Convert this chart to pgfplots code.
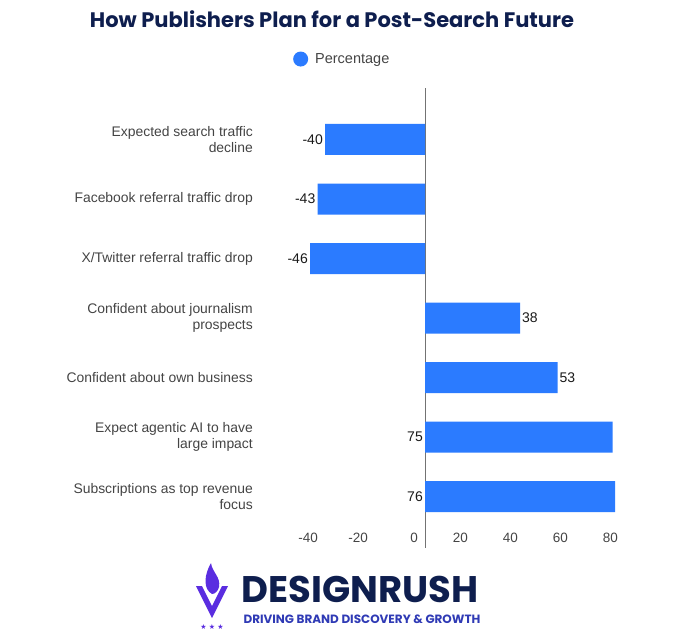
\documentclass[border=0pt]{standalone}
\usepackage{fontspec}
\setmainfont{Liberation Sans}
\newfontfamily\titlefont{Poppins}
\newfontfamily\symfont{DejaVu Sans}
\usepackage{pgfplots}
\pgfplotsset{compat=1.18}
\definecolor{barblue}{HTML}{2B7BFF}
\definecolor{navy}{HTML}{0E1E4E}
\definecolor{txtgray}{HTML}{444444}
\definecolor{logopurple}{HTML}{5A2DE0}
\definecolor{tagblue}{HTML}{2F3AB5}

\begin{document}
\begin{tikzpicture}[x=1pt,y=1pt]
\path[use as bounding box] (0,0) rectangle (700,-633);
\node[anchor=base, font=\titlefont\bfseries\fontsize{21}{25}\selectfont, text=navy] at (332,-27) {How Publishers Plan for a Post-Search Future};

\begin{axis}[
  at={(300pt,-548pt)}, anchor=south west,
  scale only axis, width=325pt, height=460pt,
  xmin=-50, xmax=80, ymin=-0.865, ymax=6.865, y dir=reverse,
  xbar, bar width=31pt, bar shift=0pt,
  axis line style={draw=none}, tick style={draw=none}, major tick length=0pt,
  xtick={-40,-20,0,20,40,60,80},
  xticklabels={-40,-20,0,20,40,60,80},
  xticklabel style={anchor=north east, inner sep=0pt, xshift=-7pt, yshift=15pt, font=\fontsize{13.5}{15}\selectfont, text=txtgray},
  ytick={0,...,6},
  yticklabels={{Expected search traffic\\decline},{Facebook referral traffic drop},{X/Twitter referral traffic drop},{Confident about journalism\\prospects},{Confident about own business},{Expect agentic AI to have\\large impact},{Subscriptions as top revenue\\focus}},
  yticklabel style={align=right, font=\fontsize{13.9}{16}\selectfont, text=txtgray, anchor=east, inner sep=0pt, xshift=-47pt},
  extra x ticks={0}, extra x tick labels={},
  extra x tick style={grid=major, major grid style={draw=black!55, line width=1pt}},
  /pgf/number format/assume math mode=true,
  nodes near coords style={font=\fontsize{14}{15}\selectfont, text=black!90},
  legend style={at={(0.13,1.063)}, anchor=center, draw=none, fill=none, font=\fontsize{14.5}{16}\selectfont, text=txtgray,
    /tikz/every odd column/.append style={column sep=5pt}},
  legend image code/.code={\fill[barblue] (0pt,0pt) circle (7.5pt);},
]
\addplot[fill=barblue, draw=none, nodes near coords, nodes near coords style={anchor=east, inner sep=2pt}]
  coordinates {(-40,0) (-43,1) (-46,2)};
\addlegendentry{Percentage}
\addplot[fill=barblue, draw=none, forget plot, nodes near coords, nodes near coords style={anchor=west, inner sep=2pt}]
  coordinates {(38,3) (53,4)};
\addplot[fill=barblue, draw=none, forget plot]
  coordinates {(75,5) (76,6)};
\addplot[draw=none, fill=none, forget plot, nodes near coords, point meta=explicit symbolic, nodes near coords style={anchor=east, inner sep=2pt}]
  coordinates {(0,5) [75] (0,6) [76]};
\end{axis}

% logo
\fill[logopurple] (196,-586) -- (212,-618) -- (228,-586) -- (222,-586) -- (212,-606) -- (202,-586) -- cycle;
\fill[logopurple] (212,-594) .. controls (203,-589) and (204,-575) .. (211,-563) .. controls (212,-572) and (221,-577) .. (219,-587) .. controls (218,-591) and (215,-594) .. (212,-594) -- cycle;
\node[font=\symfont\fontsize{7}{7}\selectfont, text=logopurple] at (212,-627) {★ ★ ★};
\node[anchor=base west, font=\titlefont\bfseries\fontsize{37}{37}\selectfont, text=navy] at (238,-602) {DESIGNRUSH};
\node[anchor=base west, font=\titlefont\bfseries\fontsize{12}{13}\selectfont, text=tagblue] at (240,-623) {DRIVING BRAND DISCOVERY \& GROWTH};
\end{tikzpicture}
\end{document}
